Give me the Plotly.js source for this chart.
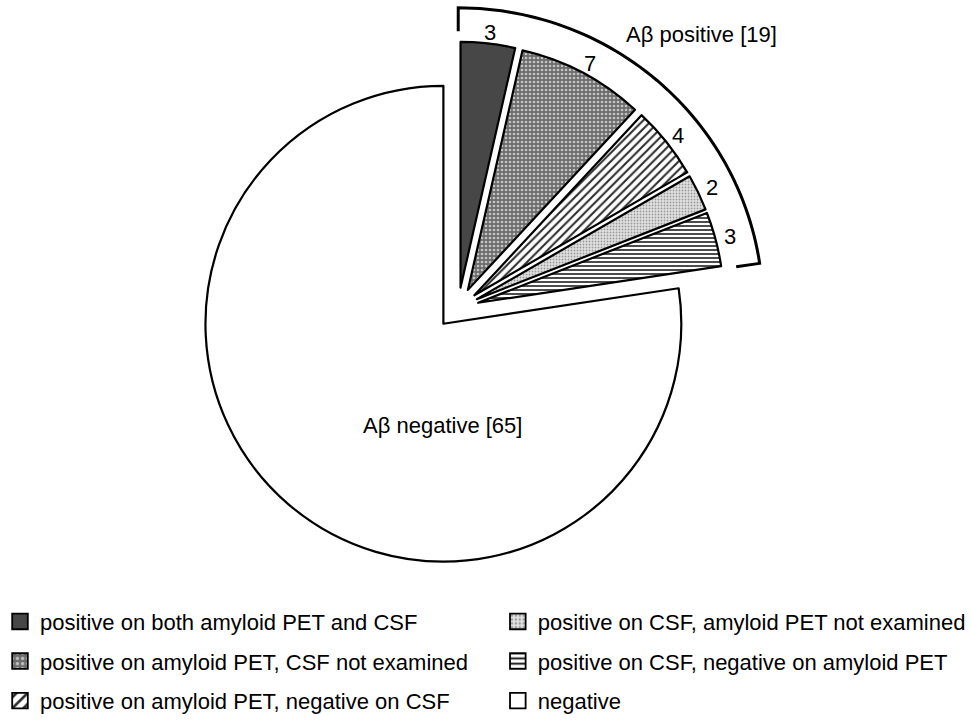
<!DOCTYPE html>
<html>
<head>
<meta charset="utf-8">
<script src="https://cdn.plot.ly/plotly-3.0.1.min.js"></script>
<style>html,body{margin:0;padding:0;background:#fff;}#chart{width:971px;height:722px;}</style>
</head>
<body>
<div id="chart"></div>
<script>
// ---- data ----
var categories = [
  'positive on both amyloid PET and CSF',
  'positive on amyloid PET, CSF not examined',
  'positive on amyloid PET, negative on CSF',
  'positive on CSF, amyloid PET not examined',
  'positive on CSF, negative on amyloid PET',
  'negative'
];
var counts = [3, 7, 4, 2, 3, 65];
var isPositive = [true, true, true, true, true, false];
var groupTitles = ['A\u03b2 positive', 'A\u03b2 negative'];

// ---- styles ----
var fillColors = ['#474747', '#6c6c6c', '#ffffff', '#e2e2e2', '#ffffff', '#ffffff'];
var patShape   = ['', '.', '/', '.', '-', ''];
var patFg      = ['#474747', '#c4c4c4', '#2a2a2a', '#9a9a9a', '#2a2a2a', '#ffffff'];
var patSize    = [6, 4, 6, 3, 4, 6];
var patSolid   = [0.3, 0.35, 0.34, 0.3, 0.42, 0.3];
var FONT = 'Liberation Sans, Arial, sans-serif';
var W = 971, H = 722;

var posTotal = 0, negTotal = 0, total = 0;
counts.forEach(function (v, i) { total += v; if (isPositive[i]) posTotal += v; else negTotal += v; });

function domainFor(cx, cy, r, pull) {
  var half = r * (1 + pull);
  return { x: [(cx - half) / W, (cx + half) / W], y: [(H - cy - half) / H, (H - cy + half) / H] };
}

var traces = [];

// legend-only entries (tiny pies hidden under the negative slice)
categories.forEach(function (c, i) {
  traces.push({
    type: 'pie', sort: false, direction: 'clockwise',
    labels: [c], values: [counts[i]],
    domain: { x: [0.40, 0.4001], y: [0.35, 0.3501] },
    textinfo: 'none', hoverinfo: 'none',
    legend: i < 3 ? 'legend' : 'legend2', legendgroup: 'g' + i,
    marker: {
      colors: [fillColors[i]],
      line: { color: '#000', width: 1.4 },
      pattern: { shape: [patShape[i]], fgcolor: [patFg[i]], bgcolor: [fillColors[i]], size: [patSize[i]], solidity: [patSolid[i]], fillmode: 'replace' }
    }
  });
});

// negative slice (not pulled)
var negC = [448, 332], negR = 244;
traces.push({
  type: 'pie', sort: false, direction: 'clockwise', rotation: 0,
  labels: categories, values: counts,
  domain: domainFor(negC[0], negC[1], negR, 0),
  showlegend: false, textinfo: 'none', hoverinfo: 'none',
  marker: {
    colors: counts.map(function (v, i) { return isPositive[i] ? 'rgba(0,0,0,0)' : fillColors[i]; }),
    line: { color: '#000', width: counts.map(function (v, i) { return isPositive[i] ? 0 : 2.2; }) }
  }
});

// positive slices, exploded
var posC = [463, 316], posR = 252, pullP = 0.084;
traces.push({
  type: 'pie', sort: false, direction: 'clockwise', rotation: 0,
  labels: categories, values: counts,
  pull: counts.map(function (v, i) { return isPositive[i] ? pullP : 0; }),
  domain: domainFor(posC[0], posC[1], posR, pullP),
  showlegend: false, hoverinfo: 'none', textinfo: 'none',
  marker: {
    colors: counts.map(function (v, i) { return isPositive[i] ? fillColors[i] : 'rgba(0,0,0,0)'; }),
    line: { color: '#000', width: counts.map(function (v, i) { return isPositive[i] ? 2.2 : 0; }) },
    pattern: {
      shape: patShape.map(function (s, i) { return isPositive[i] ? s : ''; }),
      fgcolor: patFg.map(function (s, i) { return isPositive[i] ? s : 'rgba(0,0,0,0)'; }),
      bgcolor: counts.map(function (v, i) { return isPositive[i] ? fillColors[i] : 'rgba(0,0,0,0)'; }),
      size: patSize, solidity: patSolid, fillmode: 'replace'
    }
  }
});

function toPaperX(px) { return px / W; }
function toPaperY(py) { return 1 - py / H; }

// value labels just outside each positive slice
var annotations = [];
var cum = 0;
counts.forEach(function (v, i) {
  var mid = (cum + v / 2) / total * 2 * Math.PI;
  cum += v;
  if (!isPositive[i]) return;
  var dx = Math.sin(mid), dy = -Math.cos(mid);
  var rr = posR * pullP + posR + 11;
  annotations.push({ xref: 'paper', yref: 'paper', x: toPaperX(posC[0] + rr * dx), y: toPaperY(posC[1] + rr * dy),
    xanchor: 'center', yanchor: 'middle', showarrow: false, text: String(v),
    font: { family: FONT, size: 22, color: '#000' } });
});
annotations.push({ xref: 'paper', yref: 'paper', x: toPaperX(630), y: toPaperY(35), xanchor: 'left', yanchor: 'middle', showarrow: false,
  text: groupTitles[0] + ' [' + posTotal + ']', font: { family: FONT, size: 22, color: '#000' } });
annotations.push({ xref: 'paper', yref: 'paper', x: toPaperX(447), y: toPaperY(436), xanchor: 'center', yanchor: 'middle', showarrow: false,
  text: groupTitles[1] + ' [' + negTotal + ']', font: { family: FONT, size: 22, color: '#000' } });

// bracket around the positive group
var bR = 308, tick = 24;
var a1 = posTotal / total * 2 * Math.PI;
function P(px, py) { return toPaperX(px).toFixed(5) + ',' + toPaperY(py).toFixed(5); }
var path = 'M' + P(posC[0], posC[1] - (bR - tick)) + ' L' + P(posC[0], posC[1] - bR);
for (var k = 1; k <= 60; k++) {
  var a = a1 * k / 60;
  path += ' L' + P(posC[0] + bR * Math.sin(a), posC[1] - bR * Math.cos(a));
}
path += ' L' + P(posC[0] + (bR - tick) * Math.sin(a1), posC[1] - (bR - tick) * Math.cos(a1));

var legendCommon = { yanchor: 'top', xanchor: 'left', orientation: 'v', bgcolor: 'rgba(0,0,0,0)',
  font: { family: FONT, size: 22, color: '#000' }, tracegroupgap: 8, traceorder: 'grouped' };

var layout = {
  width: W, height: H,
  margin: { l: 0, r: 0, t: 0, b: 0 },
  paper_bgcolor: '#fff',
  font: { family: FONT, color: '#000' },
  hovermode: false,
  shapes: [{ type: 'path', xref: 'paper', yref: 'paper', path: path, line: { color: '#000', width: 3 } }],
  annotations: annotations,
  legend: Object.assign({ x: 0, y: toPaperY(616) }, legendCommon),
  legend2: Object.assign({ x: 503 / W, y: toPaperY(616) }, legendCommon)
};

Plotly.newPlot('chart', traces, layout, { displayModeBar: false, staticPlot: true }).then(function (gd) {
  gd.querySelectorAll('.legendpoints path').forEach(function (p) {
    var t = p.getAttribute('transform') || '';
    p.setAttribute('transform', t + ' scale(1.3)');
  });
});
</script>
</body>
</html>
